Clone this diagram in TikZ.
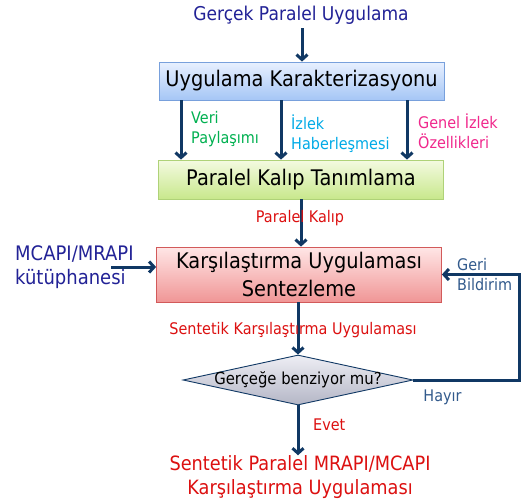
\documentclass[tikz,border=0pt]{standalone}
\usepackage{fontspec}
\setmainfont{DejaVu Sans}[FakeStretch=0.9]
\usetikzlibrary{arrows.meta,shapes.geometric}
\definecolor{navy}{RGB}{34,34,150}
\definecolor{arrowc}{RGB}{16,56,100}
\definecolor{redt}{RGB}{220,16,16}
\definecolor{greent}{RGB}{0,176,80}
\definecolor{cyant}{RGB}{0,170,230}
\definecolor{pinkt}{RGB}{240,40,140}
\definecolor{steelt}{RGB}{50,90,140}
\tikzset{
  arr/.style={draw=arrowc, line width=3pt, -{Straight Barb[length=5pt,width=11pt]}},
  fbline/.style={draw=arrowc, line width=3pt, -{Straight Barb[length=5pt,width=11pt]}},
  bigbox/.style={draw, line width=0.8pt, minimum width=285pt, inner sep=0pt, align=center,
     font=\fontsize{21.5}{28}\selectfont},
  bluebox/.style={bigbox, draw={rgb,255:red,120;green,160;blue,220}, top color={rgb,255:red,232;green,240;blue,255}, bottom color={rgb,255:red,165;green,198;blue,245}, minimum height=38pt},
  greenbox/.style={bigbox, draw={rgb,255:red,175;green,210;blue,120}, top color={rgb,255:red,244;green,250;blue,225}, bottom color={rgb,255:red,200;green,232;blue,140}, minimum height=39pt},
  redbox/.style={bigbox, draw={rgb,255:red,210;green,90;blue,90}, top color={rgb,255:red,255;green,230;blue,230}, bottom color={rgb,255:red,240;green,150;blue,150}, minimum height=55pt},
  decision/.style={diamond, draw=arrowc, line width=0.9pt, inner sep=0pt,
      minimum width=230pt, minimum height=50pt,
      top color={rgb,255:red,238;green,238;blue,244}, bottom color={rgb,255:red,180;green,182;blue,198}},
  small/.style={font=\fontsize{16}{20}\selectfont, inner sep=0pt},
  mid/.style={font=\fontsize{19}{21}\selectfont, inner sep=0pt},
}
\begin{document}
\begin{tikzpicture}[x=1pt,y=1pt]
\useasboundingbox (0,0) rectangle (523,-504);
\node[mid, text=navy] (title) at (301,-15) {Gerçek Paralel Uygulama};
\node[bluebox] (box1) at (301.5,-81) {Uygulama Karakterizasyonu};
\node[greenbox] (box2) at (301,-179.5) {Paralel Kalıp Tanımlama};
\node[redbox] (box3) at (299,-274.5) {Karşılaştırma Uygulaması\\Sentezleme};
\node[decision] (dia) at (298,-380) {};
\node[font=\fontsize{16.5}{18}\selectfont, inner sep=0pt] (diatext) at (dia.center) {Gerçeğe benziyor mu?};
\node[font=\fontsize{19.7}{24}\selectfont, text=redt, align=center, inner sep=0pt] (final) at (300,-477)
   {Sentetik Paralel MRAPI/MCAPI\\Karşılaştırma Uygulaması};
\coordinate (titlebot) at (302,-28);
\draw[arr] (titlebot) -- (box1.north -| titlebot);
\draw[arr] ([xshift=-120.5pt]box1.south) -- ([xshift=-120pt]box2.north);
\draw[arr] ([xshift=-20.5pt]box1.south) -- ([xshift=-20pt]box2.north);
\draw[arr] ([xshift=105.5pt]box1.south) -- ([xshift=106pt]box2.north);
\node[small, text=greent, align=left, anchor=west] (l1) at (191,-129.5) {Veri\\Paylaşımı};
\node[small, text=cyant, align=left, anchor=west] (l2) at (291,-133.5) {İzlek\\Haberleşmesi};
\node[small, text=pinkt, align=left, anchor=west] (l3) at (418,-131) {Genel İzlek\\Özellikleri};
\draw[arr] (box2.south) -- (box2.south |- box3.north);
\node[small, text=redt] (pk) at (300,-218) {Paralel Kalıp};
\node[font=\fontsize{20}{24}\selectfont, text=navy, align=left, anchor=west, inner sep=0pt] (lib) at (15,-267.5) {MCAPI/MRAPI\\kütüphanesi};
\coordinate (libend) at (111,-267);
\draw[arr] (libend) -- (libend -| box3.west);
\draw[arr] (box3.south -| dia.north) -- (dia.north);
\node[small, text=redt] (skl) at (293,-330) {Sentetik Karşılaştırma Uygulaması};
\coordinate (fb) at (519,-320);
\draw[fbline] (dia.east) -| (fb) |- (box3.east);
\node[small, text=steelt, align=left, anchor=west] (gb) at (457,-275) {Geri\\Bildirim};
\node[small, text=steelt] (hy) at (442.5,-397) {Hayır};
\draw[arr] (dia.south) -- (dia.south |- final.north);
\node[small, text=redt, anchor=west] (ev) at (313,-425) {Evet};
\end{tikzpicture}
\end{document}
